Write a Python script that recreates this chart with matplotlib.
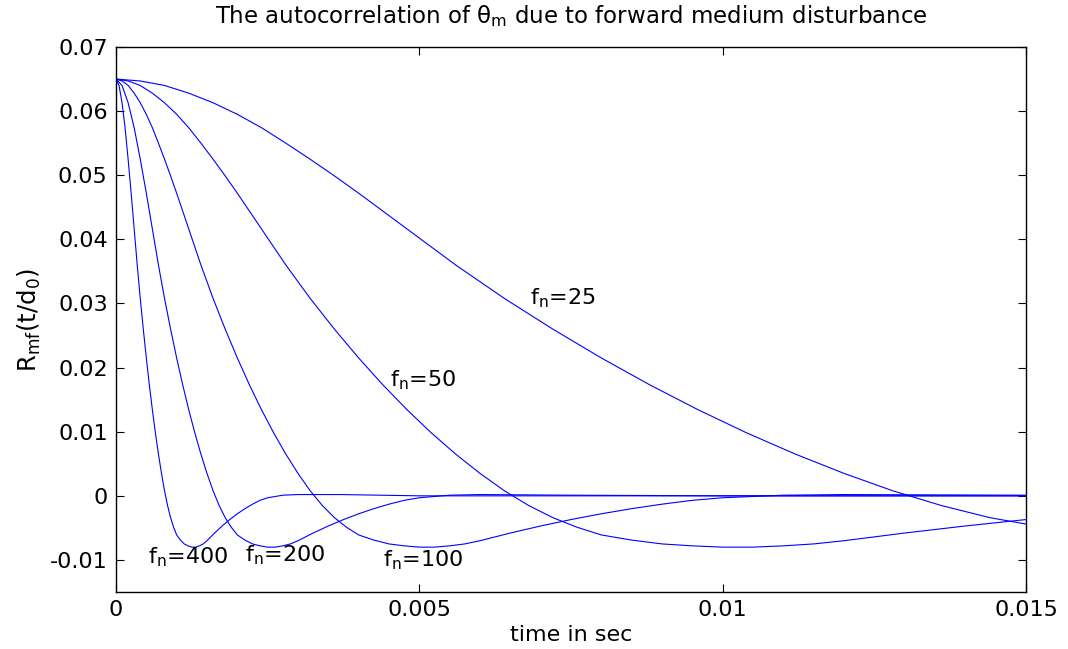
import matplotlib
matplotlib.use("Agg")
import matplotlib.pyplot as plt

# values (time in sec, autocorrelation)
t_25 = [0, 0.0004, 0.0008, 0.0012, 0.0016, 0.002, 0.0024, 0.0028, 0.0032, 0.0036,
        0.004, 0.0048, 0.0056, 0.0064, 0.0072, 0.008, 0.0088, 0.0096, 0.0104, 0.0112,
        0.012, 0.0128, 0.0136, 0.0144, 0.015]
r_25 = [0.0650, 0.0647, 0.0640, 0.0628, 0.0613, 0.0595, 0.0574, 0.0550, 0.0525, 0.0499,
        0.0472, 0.0416, 0.0360, 0.0308, 0.0260, 0.0215, 0.0173, 0.0134, 0.0098, 0.0065,
        0.0035, 0.0008, -0.0015, -0.0034, -0.0044]

t_50 = [0, 0.0002, 0.0004, 0.0006, 0.0008, 0.001, 0.0012, 0.0014, 0.0016, 0.0018,
        0.002, 0.0024, 0.0028, 0.0032, 0.0036, 0.004, 0.0044, 0.0048, 0.0052, 0.0056,
        0.006, 0.0064, 0.0068, 0.0072, 0.0076, 0.008, 0.0085, 0.009, 0.0095, 0.01,
        0.0105, 0.011, 0.0115, 0.012, 0.013, 0.014, 0.015]
r_50 = [0.0650, 0.0647, 0.0640, 0.0628, 0.0613, 0.0595, 0.0574, 0.0550, 0.0525, 0.0499,
        0.0472, 0.0416, 0.0360, 0.0308, 0.0260, 0.0215, 0.0173, 0.0134, 0.0098, 0.0065,
        0.0035, 0.0008, -0.0015, -0.0034, -0.0049, -0.0061, -0.0069, -0.0075, -0.0078, -0.0080,
        -0.0080, -0.0078, -0.0075, -0.0070, -0.0058, -0.0047, -0.0037]

t_100 = [0, 0.0001, 0.0002, 0.0003, 0.0004, 0.0005, 0.0006, 0.0007, 0.0008, 0.0009,
         0.001, 0.0012, 0.0014, 0.0016, 0.0018, 0.002, 0.0022, 0.0024, 0.0026, 0.0028,
         0.003, 0.0032, 0.0034, 0.0036, 0.0038, 0.004, 0.00425, 0.0045, 0.00475, 0.005,
         0.00525, 0.0055, 0.00575, 0.006, 0.0065, 0.007, 0.0075, 0.008, 0.0085, 0.009,
         0.0095, 0.01, 0.011, 0.012, 0.015]
r_100 = [0.0650, 0.0647, 0.0640, 0.0628, 0.0613, 0.0595, 0.0574, 0.0550, 0.0525, 0.0499,
         0.0472, 0.0416, 0.0360, 0.0308, 0.0260, 0.0215, 0.0173, 0.0134, 0.0098, 0.0065,
         0.0035, 0.0008, -0.0015, -0.0034, -0.0049, -0.0061, -0.0069, -0.0075, -0.0078, -0.0080,
         -0.0080, -0.0078, -0.0075, -0.0070, -0.0058, -0.0047, -0.0037, -0.0028, -0.0020, -0.0013,
         -0.0007, -0.0003, 0.0001, 0.0002, 0.0001]

t_200 = [0, 0.0001, 0.0002, 0.0003, 0.0004, 0.0005, 0.0006, 0.0007, 0.0008, 0.0009,
         0.001, 0.0011, 0.0012, 0.0013, 0.0014, 0.0015, 0.0016, 0.0017, 0.0018, 0.0019,
         0.002, 0.002125, 0.00225, 0.002375, 0.0025, 0.002625, 0.00275, 0.002875, 0.003, 0.00325,
         0.0035, 0.00375, 0.004, 0.00425, 0.0045, 0.00475, 0.005, 0.0055, 0.006, 0.0075,
         0.01, 0.015]
r_200 = [0.0650, 0.0640, 0.0613, 0.0574, 0.0525, 0.0472, 0.0416, 0.0360, 0.0308, 0.0260,
         0.0215, 0.0173, 0.0134, 0.0098, 0.0065, 0.0035, 0.0008, -0.0015, -0.0034, -0.0049,
         -0.0061, -0.0069, -0.0075, -0.0078, -0.0080, -0.0080, -0.0078, -0.0075, -0.0070, -0.0058,
         -0.0047, -0.0037, -0.0028, -0.0020, -0.0013, -0.0007, -0.0003, 0.0001, 0.0002, 0.0001,
         0.0, 0.0]

t_400 = [0, 0.00005, 0.0001, 0.00015, 0.0002, 0.00025, 0.0003, 0.00035, 0.0004, 0.00045,
         0.0005, 0.00055, 0.0006, 0.00065, 0.0007, 0.00075, 0.0008, 0.00085, 0.0009, 0.00095,
         0.001, 0.0010625, 0.001125, 0.0011875, 0.00125, 0.0013125, 0.001375, 0.0014375, 0.0015, 0.001625,
         0.00175, 0.001875, 0.002, 0.002125, 0.00225, 0.002375, 0.0025, 0.00275, 0.003, 0.0037,
         0.005, 0.015]
r_400 = [0.0650, 0.0640, 0.0613, 0.0574, 0.0525, 0.0472, 0.0416, 0.0360, 0.0308, 0.0260,
         0.0215, 0.0173, 0.0134, 0.0098, 0.0065, 0.0035, 0.0008, -0.0015, -0.0034, -0.0049,
         -0.0061, -0.0069, -0.0075, -0.0078, -0.0080, -0.0080, -0.0078, -0.0075, -0.0070, -0.0058,
         -0.0047, -0.0037, -0.0028, -0.0020, -0.0013, -0.0007, -0.0003, 0.0001, 0.0002, 0.0002,
         0.0, 0.0]

# curve labels and where they sit (data coords of left edge)
label_text = [r'$\mathregular{f_n}$=25', r'$\mathregular{f_n}$=50', r'$\mathregular{f_n}$=100',
              r'$\mathregular{f_n}$=200', r'$\mathregular{f_n}$=400']
label_t = [0.00683, 0.00452, 0.0044, 0.00213, 0.00053]
label_r = [0.0309, 0.0181, -0.0100, -0.0093, -0.0096]

xticks = [0, 0.005, 0.01, 0.015]
xtick_labels = ['0', '0.005', '0.01', '0.015']
yticks = [-0.01, 0, 0.01, 0.02, 0.03, 0.04, 0.05, 0.06, 0.07]
ytick_labels = ['-0.01', '0', '0.01', '0.02', '0.03', '0.04', '0.05', '0.06', '0.07']

plt.rcParams['font.family'] = ['DejaVu Sans']
plt.rcParams['mathtext.fontset'] = 'dejavusans'
plt.rcParams['font.size'] = 16

fig = plt.figure(figsize=(10.68, 6.49), dpi=100)
ax = fig.add_axes([0.1086, 0.0878, 0.8521, 0.8398])

for t, r in [(t_25, r_25), (t_50, r_50), (t_100, r_100), (t_200, r_200), (t_400, r_400)]:
    ax.plot(t, r, color='blue', linewidth=0.8)

for txt, tx, ty in zip(label_text, label_t, label_r):
    ax.text(tx, ty, txt, ha='left', va='center')

ax.set_xlim(0, 0.015)
ax.set_ylim(-0.015, 0.07)
ax.set_xticks(xticks)
ax.set_xticklabels(xtick_labels)
ax.set_yticks(yticks)
ax.set_yticklabels(ytick_labels)
ax.tick_params(direction='in', top=True, right=True, length=6, width=0.8, pad=6)
for s in ax.spines.values():
    s.set_linewidth(1.0)

ax.set_title(r'The autocorrelation of $\mathregular{\theta_m}$ due to forward medium disturbance',
             fontsize=16.5, pad=17)
ax.set_xlabel('time in sec', labelpad=3)
ax.set_ylabel(r'$\mathregular{R_{mf}(t/d_0)}$', fontsize=17.5, labelpad=5)

fig.savefig('out.png', dpi=100)
